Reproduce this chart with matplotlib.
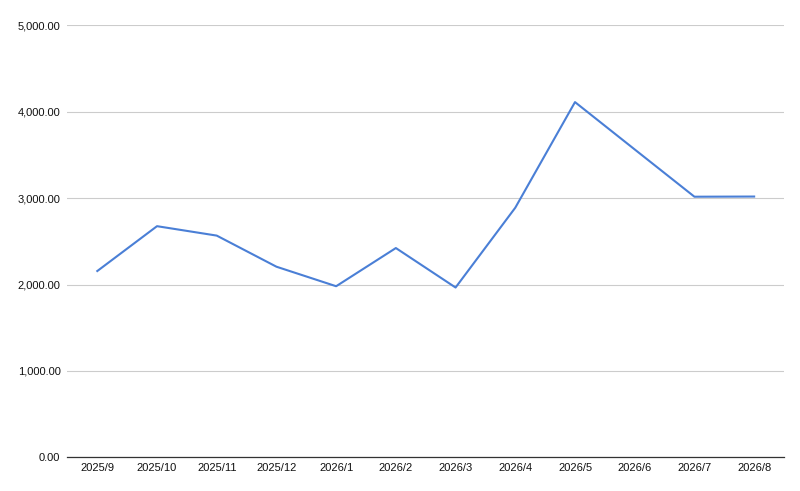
import matplotlib
matplotlib.use('Agg')
import matplotlib.pyplot as plt
from matplotlib.ticker import FuncFormatter

# data
months = ['2025/9', '2025/10', '2025/11', '2025/12', '2026/1', '2026/2',
          '2026/3', '2026/4', '2026/5', '2026/6', '2026/7', '2026/8']
values = [2156, 2675, 2566, 2206, 1980, 2422,
          1965, 2889, 4111, 3563, 3016, 3018]
y_ticks = [0, 1000, 2000, 3000, 4000, 5000]

plt.rcParams['font.family'] = ['Liberation Sans', 'DejaVu Sans']

fig = plt.figure(figsize=(8, 4.91), dpi=100)
ax = fig.add_axes([0.0843, 0.0686, 0.8957, 0.8799])

x = list(range(len(months)))
ax.plot(x, values, color='#4a7fd6', linewidth=1.5)

ax.set_xlim(-0.5, len(months) - 0.5)
ax.set_ylim(0, 5000)
ax.set_yticks(y_ticks)
ax.yaxis.set_major_formatter(FuncFormatter(lambda v, p: f'{v:,.2f}'))
ax.set_xticks(x)
ax.set_xticklabels(months)

ax.grid(axis='y', color='#cccccc', linewidth=0.8)
ax.set_axisbelow(True)
for s in ['top', 'right', 'left']:
    ax.spines[s].set_visible(False)
ax.spines['bottom'].set_color('#333333')
ax.spines['bottom'].set_linewidth(0.9)
ax.tick_params(axis='both', length=0, labelsize=8, colors='#111111')
ax.tick_params(axis='y', pad=5)
ax.tick_params(axis='x', pad=4)

fig.savefig('out.png', dpi=100)
